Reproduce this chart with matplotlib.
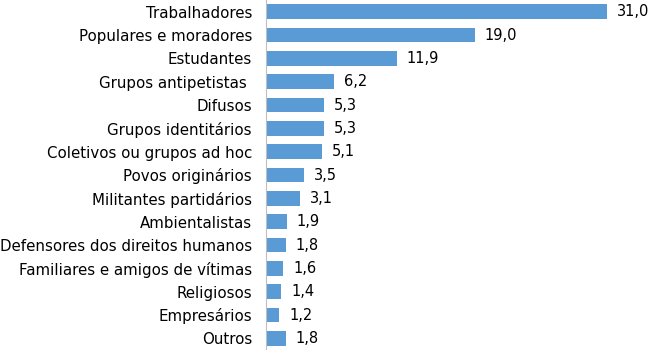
import matplotlib
matplotlib.use("Agg")
import matplotlib.pyplot as plt

categories = ["Trabalhadores", "Populares e moradores", "Estudantes", "Grupos antipetistas ",
              "Difusos", "Grupos identitários", "Coletivos ou grupos ad hoc", "Povos originários",
              "Militantes partidários", "Ambientalistas", "Defensores dos direitos humanos",
              "Familiares e amigos de vítimas", "Religiosos", "Empresários", "Outros"]
values = [31.0, 19.0, 11.9, 6.2, 5.3, 5.3, 5.1, 3.5, 3.1, 1.9, 1.8, 1.6, 1.4, 1.2, 1.8]

fig = plt.figure(figsize=(6.5, 3.5), dpi=100)
ax = fig.add_axes([0.409, 0.0, 0.591, 1.0])
pos = list(range(len(categories)))
ax.barh(pos, values, height=0.64, color="#5B9BD5")
for p, v in zip(pos, values):
    ax.text(v + 0.9, p, f"{v:.1f}".replace(".", ","), va="center", ha="left",
            fontsize=10.5, color="black")
ax.set_yticks(pos)
ax.set_yticklabels(categories, fontsize=10.8)
ax.set_ylim(len(categories) - 0.5, -0.5)
ax.set_xlim(0, 34.9)
ax.set_xticks([])
for s in ["top", "right", "bottom"]:
    ax.spines[s].set_visible(False)
ax.spines["left"].set_color("#bfbfbf")
ax.tick_params(axis="y", length=0, pad=10)
fig.savefig("out.png", dpi=100)
